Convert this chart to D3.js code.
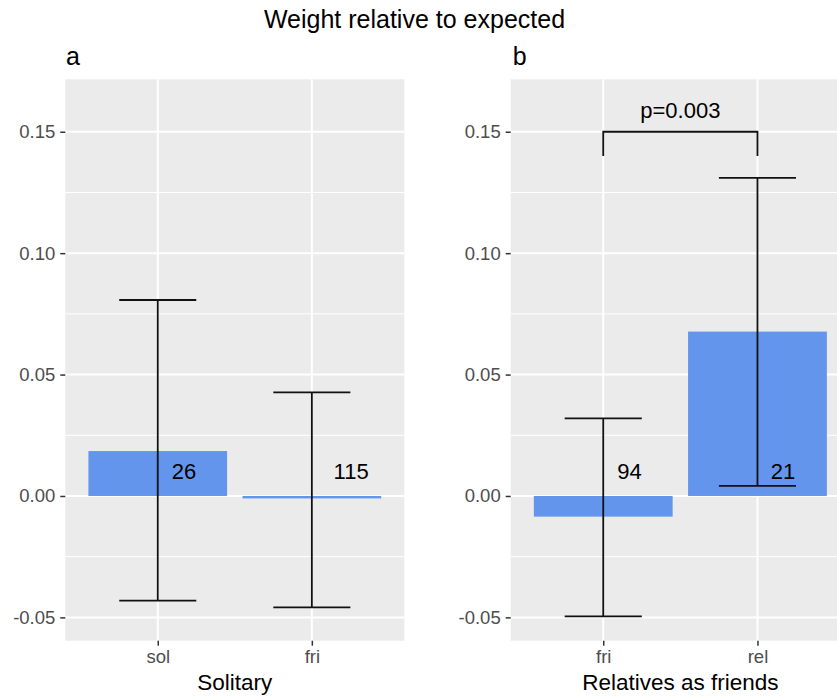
<!DOCTYPE html>
<html><head><meta charset="utf-8">
<script src="https://cdn.jsdelivr.net/npm/d3@7"></script>
<style>
html,body{margin:0;padding:0;background:#fff;}
svg{display:block;font-family:"Liberation Sans",Arial,Helvetica,sans-serif;}
</style></head>
<body><svg id="chart" width="837" height="696"></svg>
<script>
// ---- data ----
const titleText = "Weight relative to expected";
const panelTags = ["a", "b"];
const axisTitles = ["Solitary", "Relatives as friends"];
const catsA = ["sol", "fri"];
const meansA = [0.0185, -0.001];
const lowerA = [-0.0431, -0.0459];
const upperA = [0.0807, 0.0427];
const nA = ["26", "115"];
const catsB = ["fri", "rel"];
const meansB = [-0.0085, 0.0677];
const lowerB = [-0.0496, 0.0042];
const upperB = [0.0320, 0.1310];
const nB = ["94", "21"];
const yTicks = [-0.05, 0.00, 0.05, 0.10, 0.15];
const yMinor = [-0.025, 0.025, 0.075, 0.125];
const yDomain = [-0.0596, 0.1716];
const labelY = 0.01;
const bracket = {from: "fri", to: "rel", top: 0.15, bottom: 0.14, textY: 0.159, text: "p=0.003"};

(function () {
// ---- layout ----
const svg = d3.select("#chart");
const pTop = 79.3, pBottom = 640.7;
const panels = [
  {cats: catsA, means: meansA, lower: lowerA, upper: upperA, n: nA, left: 65.3, right: 404.3, tag: panelTags[0], xt: axisTitles[0], nudge: [0.17, 0.255]},
  {cats: catsB, means: meansB, lower: lowerB, upper: upperB, n: nB, left: 510.7, right: 850, tag: panelTags[1], xt: axisTitles[1], nudge: [0.17, 0.165], bracket: bracket}
];
const y = d3.scaleLinear().domain(yDomain).range([pBottom, pTop]);
const f2 = d3.format(".2f");
const fmt = v => f2(v).replace("\u2212", "-");

svg.append("text").attr("x", 414.5).attr("y", 28.3).attr("text-anchor", "middle")
  .attr("font-size", 25).attr("fill", "#000").text(titleText);

panels.forEach((p, pi) => {
  const g = svg.append("g");
  const x = d3.scalePoint().domain(p.cats).range([p.left, p.right]).padding(0.6);
  const step = x.step();
  g.append("rect").attr("x", p.left).attr("y", pTop).attr("width", p.right - p.left).attr("height", pBottom - pTop).attr("fill", "#EBEBEB");
  g.selectAll(".ymin").data(yMinor).join("line")
    .attr("x1", p.left).attr("x2", p.right).attr("y1", d => y(d)).attr("y2", d => y(d))
    .attr("stroke", "#fff").attr("stroke-width", 1);
  g.selectAll(".ymaj").data(yTicks).join("line")
    .attr("x1", p.left).attr("x2", p.right).attr("y1", d => y(d)).attr("y2", d => y(d))
    .attr("stroke", "#fff").attr("stroke-width", 2);
  g.selectAll(".xmaj").data(p.cats).join("line")
    .attr("x1", d => x(d)).attr("x2", d => x(d)).attr("y1", pTop).attr("y2", pBottom)
    .attr("stroke", "#fff").attr("stroke-width", 2);
  g.selectAll(".bar").data(p.cats).join("rect")
    .attr("x", d => x(d) - 0.45 * step).attr("width", 0.9 * step)
    .attr("y", (d, i) => y(Math.max(0, p.means[i])))
    .attr("height", (d, i) => Math.abs(y(p.means[i]) - y(0)))
    .attr("fill", "#6495ED");
  const eb = g.selectAll(".eb").data(p.cats).join("g").attr("stroke", "#111").attr("stroke-width", 1.8).attr("fill", "none");
  eb.append("line").attr("x1", d => x(d)).attr("x2", d => x(d)).attr("y1", (d, i) => y(p.lower[i])).attr("y2", (d, i) => y(p.upper[i]));
  eb.append("line").attr("x1", d => x(d) - 0.25 * step).attr("x2", d => x(d) + 0.25 * step).attr("y1", (d, i) => y(p.upper[i])).attr("y2", (d, i) => y(p.upper[i]));
  eb.append("line").attr("x1", d => x(d) - 0.25 * step).attr("x2", d => x(d) + 0.25 * step).attr("y1", (d, i) => y(p.lower[i])).attr("y2", (d, i) => y(p.lower[i]));
  g.selectAll(".nl").data(p.cats).join("text")
    .attr("x", (d, i) => x(d) + p.nudge[i] * step).attr("y", y(labelY)).attr("dy", "0.35em")
    .attr("text-anchor", "middle").attr("font-size", 22).attr("fill", "#000")
    .text((d, i) => p.n[i]);
  if (p.bracket) {
    const b = p.bracket;
    const x1 = x(b.from), x2 = x(b.to);
    g.append("path").attr("d", `M${x1},${y(b.bottom)}V${y(b.top)}H${x2}V${y(b.bottom)}`)
      .attr("fill", "none").attr("stroke", "#111").attr("stroke-width", 1.8);
    g.append("text").attr("x", (x1 + x2) / 2).attr("y", y(b.textY)).attr("dy", "0.35em")
      .attr("text-anchor", "middle").attr("font-size", 22).attr("fill", "#000").text(b.text);
  }
  const ya = g.append("g").attr("transform", `translate(${p.left},0)`)
    .call(d3.axisLeft(y).tickValues(yTicks).tickFormat(fmt).tickSize(5).tickPadding(5));
  ya.select(".domain").remove();
  ya.selectAll("line").attr("stroke", "#333").attr("stroke-width", 1.5);
  ya.selectAll("text").attr("fill", "#4D4D4D").attr("font-size", 18.5).attr("font-family", null);
  const xa = g.append("g").attr("transform", `translate(0,${pBottom})`)
    .call(d3.axisBottom(x).tickSize(5).tickPadding(4));
  xa.select(".domain").remove();
  xa.selectAll("line").attr("stroke", "#333").attr("stroke-width", 1.5);
  xa.selectAll("text").attr("fill", "#4D4D4D").attr("font-size", 18.5).attr("font-family", null);
  g.append("text").attr("x", (p.left + p.right) / 2).attr("y", 690).attr("text-anchor", "middle")
    .attr("font-size", 22.5).attr("fill", "#000").text(p.xt);
  g.append("text").attr("x", pi === 0 ? 66 : 512.7).attr("y", 65).attr("font-size", 25).attr("fill", "#000").text(p.tag);
});
})();
</script></body></html>
